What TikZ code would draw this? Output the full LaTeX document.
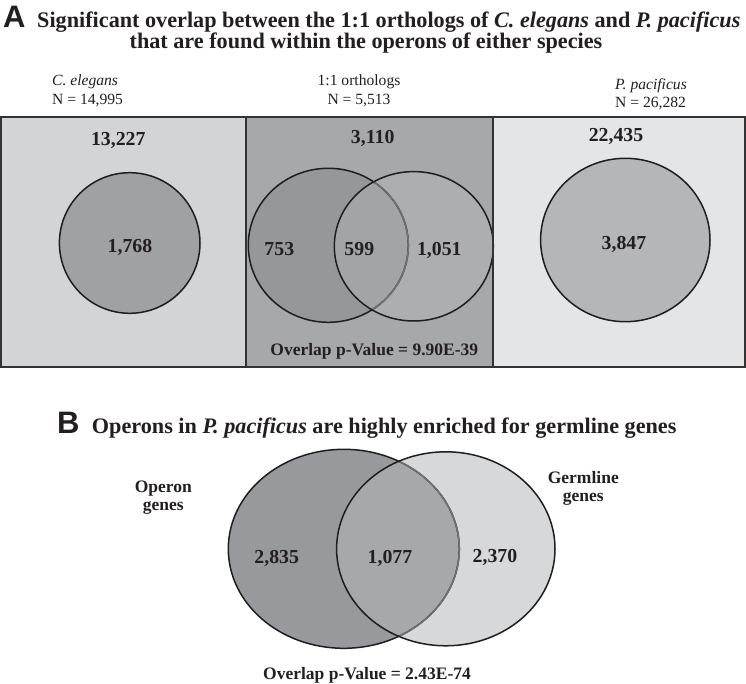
\documentclass[tikz,border=0pt]{standalone}
\usepackage{fontspec}
\setmainfont{Liberation Serif}
\newfontfamily\labfont{Liberation Sans}
\definecolor{txt}{HTML}{231F20}
\definecolor{ringc}{HTML}{1E1E1E}
\definecolor{framec}{HTML}{333333}
\definecolor{innerc}{HTML}{727274}
\definecolor{boxL}{HTML}{D3D4D6}
\definecolor{boxM}{HTML}{A7A8AA}
\definecolor{boxR}{HTML}{E4E5E7}
\definecolor{circL}{HTML}{A0A1A3}
\definecolor{circR}{HTML}{B5B6B8}
\definecolor{vmL}{HTML}{96979A}
\definecolor{vmI}{HTML}{A3A4A6}
\definecolor{vmR}{HTML}{ADAEB0}
\definecolor{vbL}{HTML}{98999C}
\definecolor{vbI}{HTML}{A7A8AA}
\definecolor{vbR}{HTML}{D7D8DA}
\begin{document}
\begin{tikzpicture}[x=1pt,y=-1pt,
  num/.style={font=\fontsize{19.8}{20}\selectfont\bfseries, anchor=base, inner sep=0pt, text=txt},
  lab/.style={font=\fontsize{17.5}{18}\selectfont\bfseries, anchor=base, inner sep=0pt, text=txt},
  small/.style={font=\fontsize{15.6}{16}\selectfont, anchor=base west, inner sep=0pt, text=txt},
  ttl/.style={font=\fontsize{22.2}{24}\selectfont\bfseries, inner sep=0pt, text=txt},
  letter/.style={font=\labfont\fontsize{31}{32}\selectfont\bfseries, anchor=base west, inner sep=0pt, text=txt},
  ring/.style={draw=ringc, line width=1.5pt},
  inring/.style={draw=innerc, line width=1.5pt},
  frameline/.style={draw=framec, line width=2pt},
]
\useasboundingbox (0,0) rectangle (746,684);
\fill[white] (0,0) rectangle (746,684);

% ---------- Panel A title ----------
\node[letter] (la) at (3,27.5) {A};
\node[ttl, anchor=base west] (ta1) at (37,27.5) {Significant overlap between the 1:1 orthologs of \textit{C. elegans} and \textit{P. pacificus}};
\node[ttl, anchor=base] (ta2) at (366,49) {that are found within the operons of either species};

% ---------- column labels ----------
\node[small] (ce1) at (52,86) {\textit{C. elegans}};
\node[small] (ce2) at (52,105) {N = 14,995};
\node[small, anchor=base] (or1) at (359,86) {1:1 orthologs};
\node[small, anchor=base] (or2) at (359,105) {N = 5,513};
\node[small] (pp1) at (615,90) {\textit{P. pacificus}};
\node[small] (pp2) at (615,108) {N = 26,282};

% ---------- boxes ----------
\fill[boxL] (1,117) rectangle (245.5,367);
\fill[boxM] (245.5,117) rectangle (493.3,367);
\fill[boxR] (493.3,117) rectangle (745,367);

% left circle
\fill[circL] (129.7,243) circle (70.3);
\draw[ring] (129.7,243) circle (70.3);

% middle Venn
\fill[vmL] (328.3,245.3) ellipse [x radius=80, y radius=77];
\fill[vmR] (413.8,246.3) ellipse [x radius=79.5, y radius=74.7];
\begin{scope}
  \clip (328.3,245.3) ellipse [x radius=80, y radius=77];
  \fill[vmI] (413.8,246.3) ellipse [x radius=79.5, y radius=74.7];
\end{scope}
\draw[ring] (328.3,245.3) ellipse [x radius=80, y radius=77];
\begin{scope}
  \clip (413.8,246.3) ellipse [x radius=79.5, y radius=74.7];
  \draw[inring] (328.3,245.3) ellipse [x radius=80, y radius=77];
\end{scope}
\draw[ring] (413.8,246.3) ellipse [x radius=79.5, y radius=74.7];

% right circle
\fill[circR] (625.3,240) ellipse [x radius=84.7, y radius=81.7];
\draw[ring] (625.3,240) ellipse [x radius=84.7, y radius=81.7];

% frame
\draw[frameline] (1,117) rectangle (745,367);
\draw[frameline] (245.5,117) -- (245.5,367);
\draw[frameline] (493.3,117) -- (493.3,367);

% numbers A
\node[num] (n1) at (118.3,146) {13,227};
\node[num] (n2) at (130,252.6) {1,768};
\node[num] (n3) at (372.7,143.3) {3,110};
\node[num] (n4) at (279.3,255.9) {753};
\node[num] (n5) at (359.3,255.9) {599};
\node[num] (n6) at (439.3,255.9) {1,051};
\node[lab] (pa) at (374.3,355) {Overlap p-Value = 9.90E-39};
\node[num] (n7) at (616,141.6) {22,435};
\node[num] (n8) at (624,249.3) {3,847};

% ---------- Panel B ----------
\node[letter] (lb) at (57,433.3) {B};
\node[ttl, anchor=base west] (tb) at (91.7,433.3) {Operons in \textit{P. pacificus} are highly enriched for germline genes};

\fill[vbL] (343.8,548.8) ellipse [x radius=115.5, y radius=99.5];
\fill[vbR] (445.8,548.8) ellipse [x radius=109.2, y radius=97];
\begin{scope}
  \clip (343.8,548.8) ellipse [x radius=115.5, y radius=99.5];
  \fill[vbI] (445.8,548.8) ellipse [x radius=109.2, y radius=97];
\end{scope}
\draw[ring] (343.8,548.8) ellipse [x radius=115.5, y radius=99.5];
\begin{scope}
  \clip (445.8,548.8) ellipse [x radius=109.2, y radius=97];
  \draw[inring] (343.8,548.8) ellipse [x radius=115.5, y radius=99.5];
\end{scope}
\draw[ring] (445.8,548.8) ellipse [x radius=109.2, y radius=97];

\node[lab] (og1) at (163.3,492) {Operon};
\node[lab] (og2) at (163.3,510) {genes};
\node[lab] (gg1) at (583.3,483) {Germline};
\node[lab] (gg2) at (583.3,501) {genes};
\node[num] (b1) at (276.7,563) {2,835};
\node[num] (b2) at (390,563) {1,077};
\node[num] (b3) at (495,562) {2,370};
\node[lab] (pb) at (367,679) {Overlap p-Value = 2.43E-74};
\end{tikzpicture}
\end{document}
